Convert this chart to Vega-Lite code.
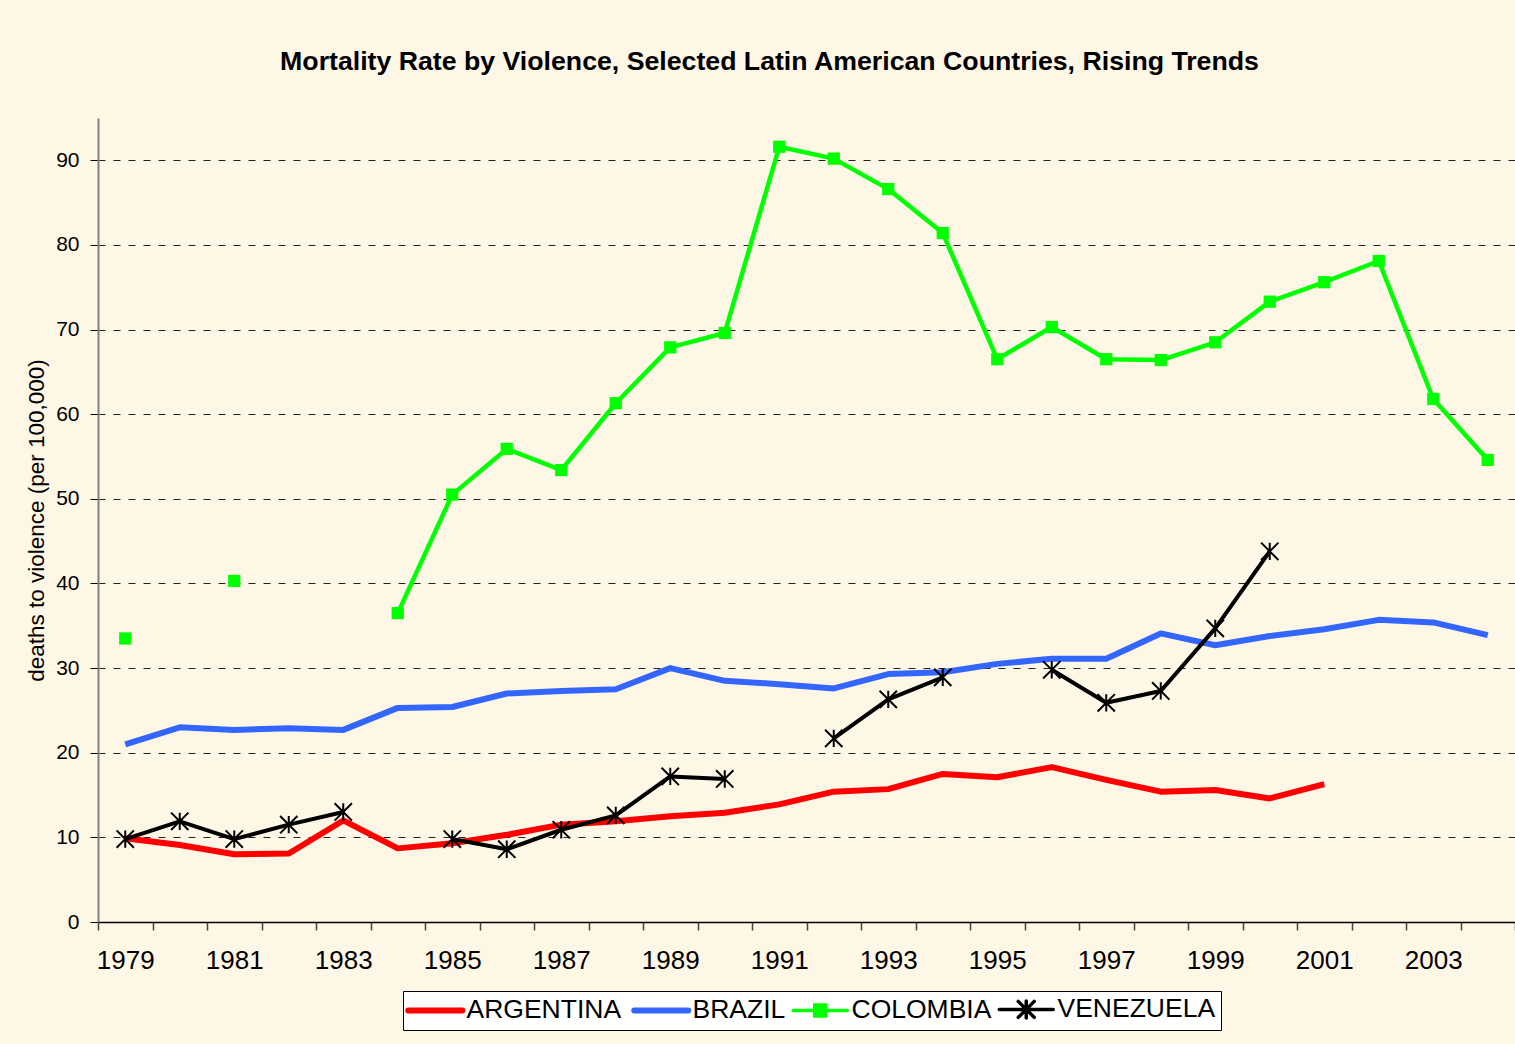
{
  "$schema": "https://vega.github.io/schema/vega-lite/v6.json",
  "autosize": {"type": "none"},
  "width": 1417,
  "height": 804,
  "padding": {"left": 98, "top": 118, "right": 0, "bottom": 122},
  "background": "#FFF7E6",
  "title": {
    "text": "Mortality Rate by Violence, Selected Latin American Countries, Rising Trends",
    "font": "Liberation Sans",
    "fontSize": 26.7,
    "fontWeight": "bold",
    "color": "#000000",
    "anchor": "middle",
    "dx": -37,
    "offset": 21,
    "baseline": "alphabetic"
  },
  "config": {
    "view": {"stroke": null},
    "font": "Liberation Sans"
  },
  "data": {
    "values": [
      {"year": 1979, "country": "ARGENTINA", "value": 9.9},
      {"year": 1980, "country": "ARGENTINA", "value": 9.1},
      {"year": 1981, "country": "ARGENTINA", "value": 8.0},
      {"year": 1982, "country": "ARGENTINA", "value": 8.1},
      {"year": 1983, "country": "ARGENTINA", "value": 12.0},
      {"year": 1984, "country": "ARGENTINA", "value": 8.7},
      {"year": 1985, "country": "ARGENTINA", "value": 9.3},
      {"year": 1986, "country": "ARGENTINA", "value": 10.3},
      {"year": 1987, "country": "ARGENTINA", "value": 11.5},
      {"year": 1988, "country": "ARGENTINA", "value": 11.9},
      {"year": 1989, "country": "ARGENTINA", "value": 12.5},
      {"year": 1990, "country": "ARGENTINA", "value": 12.9},
      {"year": 1991, "country": "ARGENTINA", "value": 13.9},
      {"year": 1992, "country": "ARGENTINA", "value": 15.4},
      {"year": 1993, "country": "ARGENTINA", "value": 15.7},
      {"year": 1994, "country": "ARGENTINA", "value": 17.5},
      {"year": 1995, "country": "ARGENTINA", "value": 17.1},
      {"year": 1996, "country": "ARGENTINA", "value": 18.3},
      {"year": 1997, "country": "ARGENTINA", "value": 16.8},
      {"year": 1998, "country": "ARGENTINA", "value": 15.4},
      {"year": 1999, "country": "ARGENTINA", "value": 15.6},
      {"year": 2000, "country": "ARGENTINA", "value": 14.6},
      {"year": 2001, "country": "ARGENTINA", "value": 16.3},
      {"year": 1979, "country": "BRAZIL", "value": 21.0},
      {"year": 1980, "country": "BRAZIL", "value": 23.0},
      {"year": 1981, "country": "BRAZIL", "value": 22.7},
      {"year": 1982, "country": "BRAZIL", "value": 22.9},
      {"year": 1983, "country": "BRAZIL", "value": 22.7},
      {"year": 1984, "country": "BRAZIL", "value": 25.3},
      {"year": 1985, "country": "BRAZIL", "value": 25.4},
      {"year": 1986, "country": "BRAZIL", "value": 27.0},
      {"year": 1987, "country": "BRAZIL", "value": 27.3},
      {"year": 1988, "country": "BRAZIL", "value": 27.5},
      {"year": 1989, "country": "BRAZIL", "value": 30.0},
      {"year": 1990, "country": "BRAZIL", "value": 28.5},
      {"year": 1991, "country": "BRAZIL", "value": 28.1},
      {"year": 1992, "country": "BRAZIL", "value": 27.6},
      {"year": 1993, "country": "BRAZIL", "value": 29.3},
      {"year": 1994, "country": "BRAZIL", "value": 29.5},
      {"year": 1995, "country": "BRAZIL", "value": 30.5},
      {"year": 1996, "country": "BRAZIL", "value": 31.1},
      {"year": 1997, "country": "BRAZIL", "value": 31.1},
      {"year": 1998, "country": "BRAZIL", "value": 34.1},
      {"year": 1999, "country": "BRAZIL", "value": 32.7},
      {"year": 2000, "country": "BRAZIL", "value": 33.8},
      {"year": 2001, "country": "BRAZIL", "value": 34.6},
      {"year": 2002, "country": "BRAZIL", "value": 35.7},
      {"year": 2003, "country": "BRAZIL", "value": 35.4},
      {"year": 2004, "country": "BRAZIL", "value": 33.9},
      {"year": 1979, "country": "COLOMBIA", "value": 33.5},
      {"year": 1980, "country": "COLOMBIA", "value": null},
      {"year": 1981, "country": "COLOMBIA", "value": 40.3},
      {"year": 1982, "country": "COLOMBIA", "value": null},
      {"year": 1983, "country": "COLOMBIA", "value": null},
      {"year": 1984, "country": "COLOMBIA", "value": 36.5},
      {"year": 1985, "country": "COLOMBIA", "value": 50.5},
      {"year": 1986, "country": "COLOMBIA", "value": 55.9},
      {"year": 1987, "country": "COLOMBIA", "value": 53.4},
      {"year": 1988, "country": "COLOMBIA", "value": 61.3},
      {"year": 1989, "country": "COLOMBIA", "value": 67.9},
      {"year": 1990, "country": "COLOMBIA", "value": 69.6},
      {"year": 1991, "country": "COLOMBIA", "value": 91.6},
      {"year": 1992, "country": "COLOMBIA", "value": 90.2},
      {"year": 1993, "country": "COLOMBIA", "value": 86.6},
      {"year": 1994, "country": "COLOMBIA", "value": 81.4},
      {"year": 1995, "country": "COLOMBIA", "value": 66.5},
      {"year": 1996, "country": "COLOMBIA", "value": 70.3},
      {"year": 1997, "country": "COLOMBIA", "value": 66.5},
      {"year": 1998, "country": "COLOMBIA", "value": 66.4},
      {"year": 1999, "country": "COLOMBIA", "value": 68.5},
      {"year": 2000, "country": "COLOMBIA", "value": 73.3},
      {"year": 2001, "country": "COLOMBIA", "value": 75.6},
      {"year": 2002, "country": "COLOMBIA", "value": 78.1},
      {"year": 2003, "country": "COLOMBIA", "value": 61.8},
      {"year": 2004, "country": "COLOMBIA", "value": 54.6},
      {"year": 1979, "country": "VENEZUELA", "value": 9.8},
      {"year": 1980, "country": "VENEZUELA", "value": 11.9},
      {"year": 1981, "country": "VENEZUELA", "value": 9.8},
      {"year": 1982, "country": "VENEZUELA", "value": 11.5},
      {"year": 1983, "country": "VENEZUELA", "value": 13.0},
      {"year": 1984, "country": "VENEZUELA", "value": null},
      {"year": 1985, "country": "VENEZUELA", "value": 9.8},
      {"year": 1986, "country": "VENEZUELA", "value": 8.6},
      {"year": 1987, "country": "VENEZUELA", "value": 10.9},
      {"year": 1988, "country": "VENEZUELA", "value": 12.6},
      {"year": 1989, "country": "VENEZUELA", "value": 17.2},
      {"year": 1990, "country": "VENEZUELA", "value": 16.9},
      {"year": 1991, "country": "VENEZUELA", "value": null},
      {"year": 1992, "country": "VENEZUELA", "value": 21.7},
      {"year": 1993, "country": "VENEZUELA", "value": 26.3},
      {"year": 1994, "country": "VENEZUELA", "value": 28.9},
      {"year": 1995, "country": "VENEZUELA", "value": null},
      {"year": 1996, "country": "VENEZUELA", "value": 29.8},
      {"year": 1997, "country": "VENEZUELA", "value": 25.9},
      {"year": 1998, "country": "VENEZUELA", "value": 27.3},
      {"year": 1999, "country": "VENEZUELA", "value": 34.7},
      {"year": 2000, "country": "VENEZUELA", "value": 43.8}
    ]
  },
  "encoding": {
    "x": {
      "field": "year",
      "type": "ordinal",
      "scale": {"type": "band", "paddingInner": 0, "paddingOuter": 0},
      "axis": {
        "title": null,
        "labelAngle": 0,
        "labelExpr": "datum.value % 2 == 1 ? datum.label : ''",
        "labelOverlap": false,
        "tickBand": "extent",
        "domainColor": "#000000",
        "domainWidth": 1.5,
        "tickColor": "#444444",
        "tickWidth": 1.5,
        "tickSize": 8,
        "labelFontSize": 26,
        "labelColor": "#000000",
        "labelPadding": 17,
        "grid": false
      }
    },
    "y": {
      "field": "value",
      "type": "quantitative",
      "scale": {"domain": [0, 95], "nice": false, "zero": true},
      "axis": {
        "title": "deaths to violence (per 100,000)",
        "titleFontSize": 22.5,
        "titleFontWeight": "normal",
        "titleColor": "#000000",
        "titlePadding": 7,
        "values": [0, 10, 20, 30, 40, 50, 60, 70, 80, 90],
        "grid": true,
        "gridDash": [7, 8],
        "gridColor": "#222222",
        "gridWidth": 1,
        "domainColor": "#808080",
        "domainWidth": 2,
        "tickColor": "#000000",
        "tickSize": 8,
        "labelFontSize": 21,
        "labelColor": "#000000",
        "labelPadding": 11
      }
    },
    "color": {
      "field": "country",
      "type": "nominal",
      "scale": {
        "domain": ["ARGENTINA", "BRAZIL", "COLOMBIA", "VENEZUELA"],
        "range": ["#FF0000", "#3366FF", "#00FF00", "#000000"]
      },
      "legend": {
        "title": null,
        "orient": "none",
        "legendX": 305,
        "legendY": 873,
        "direction": "horizontal",
        "fillColor": "#FFFFFF",
        "strokeColor": "#000000",
        "padding": 5,
        "labelFontSize": 26.5,
        "labelColor": "#000000",
        "symbolSize": 400,
        "symbolOffset": 14,
        "labelOffset": 18,
        "columnPadding": 0,
        "encode": {
          "symbols": {
            "update": {
              "shape": {"signal": "datum.value === 'COLOMBIA' ? 'M-2.7,0H2.7M-0.55,-0.55H0.55V0.55H-0.55Z' : datum.value === 'VENEZUELA' ? 'M-2.7,0H2.7M0,-0.85V0.85M-0.8,-0.8L0.8,0.8M-0.8,0.8L0.8,-0.8' : 'M-2.7,0H2.7'"},
              "stroke": {"scale": "color", "field": "value"},
              "fill": {"scale": "color", "field": "value"},
              "strokeWidth": {"signal": "datum.value === 'ARGENTINA' || datum.value === 'BRAZIL' ? 6 : 3.5"},
              "strokeCap": {"value": "round"}
            }
          }
        }
      }
    }
  },
  "layer": [
    {
      "transform": [{"filter": "datum.country === 'ARGENTINA' || datum.country === 'BRAZIL'"}],
      "mark": {"type": "line", "strokeJoin": "round", "strokeWidth": 6}
    },
    {
      "transform": [{"filter": "datum.country === 'COLOMBIA'"}],
      "mark": {"type": "line", "strokeJoin": "round", "strokeWidth": 4.5}
    },
    {
      "transform": [{"filter": "datum.country === 'VENEZUELA'"}],
      "mark": {"type": "line", "strokeJoin": "round", "strokeWidth": 4}
    },
    {
      "transform": [{"filter": "datum.country === 'COLOMBIA' && isValid(datum.value)"}],
      "mark": {"type": "point", "shape": "square", "filled": true, "size": 150, "opacity": 1}
    },
    {
      "transform": [{"filter": "datum.country === 'VENEZUELA' && isValid(datum.value)"}],
      "mark": {
        "type": "point",
        "shape": "M0,-1V1M-1,-1L1,1M-1,1L1,-1",
        "filled": false,
        "strokeWidth": 2,
        "size": 300,
        "opacity": 1
      }
    }
  ]
}
